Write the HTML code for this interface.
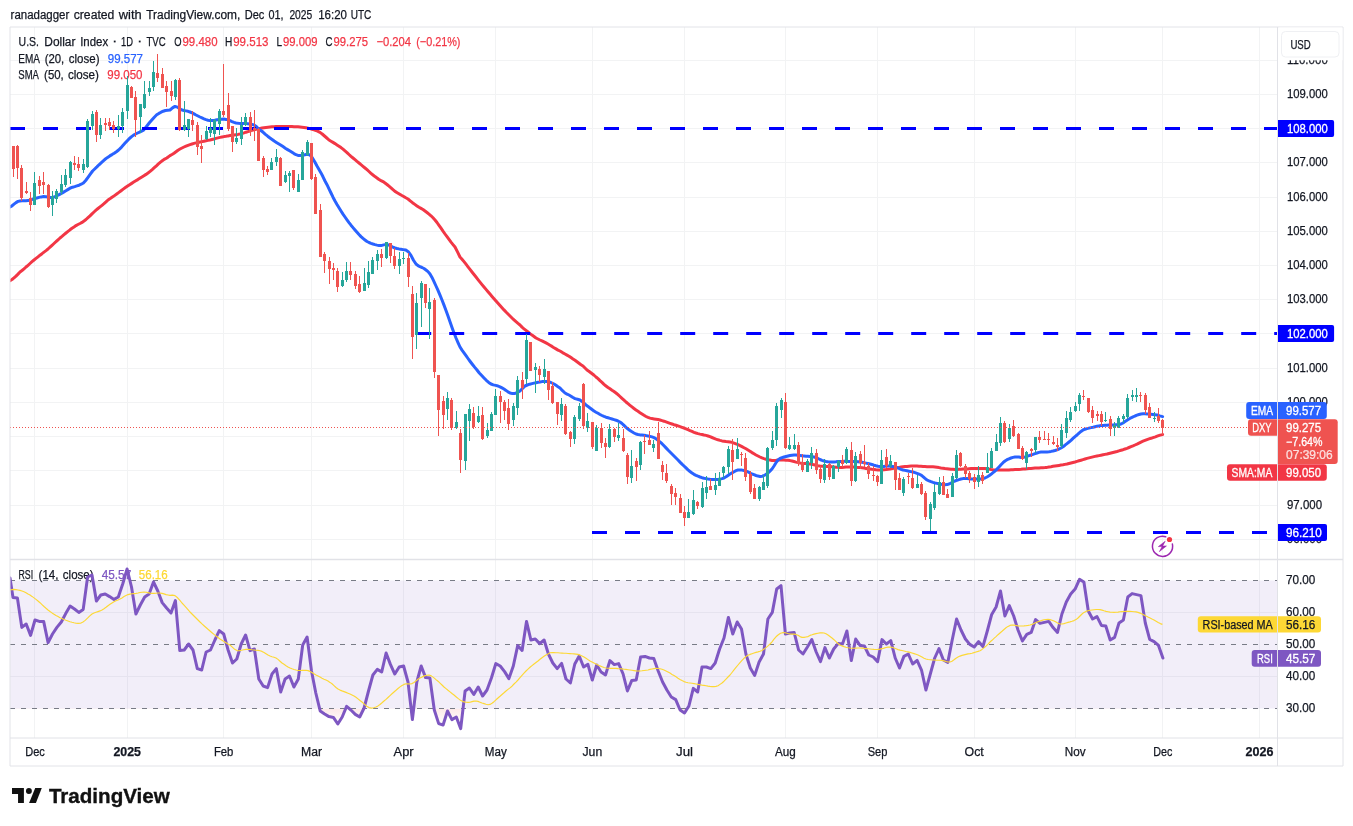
<!DOCTYPE html>
<html><head><meta charset="utf-8"><title>U.S. Dollar Index chart</title>
<style>html,body{margin:0;padding:0;background:#fff}body{width:1353px;height:826px;overflow:hidden;font-family:"Liberation Sans",sans-serif}svg{display:block}</style></head>
<body>
<svg width="1353" height="826" viewBox="0 0 1353 826" font-family="'Liberation Sans', sans-serif">
<rect width="1353" height="826" fill="#fff"/>
<defs><clipPath id="cm"><rect x="10" y="27" width="1267.5" height="532.5"/></clipPath><clipPath id="cr"><rect x="10" y="559.5" width="1267.5" height="178.5"/></clipPath><clipPath id="cos"><rect x="10" y="708.5" width="1267.5" height="29.5"/></clipPath><linearGradient id="osg" gradientUnits="userSpaceOnUse" x1="0" y1="708.5" x2="0" y2="724.5"><stop offset="0" stop-color="#ef5350" stop-opacity="0.13"/><stop offset="1" stop-color="#ef5350" stop-opacity="0"/></linearGradient><filter id="noop" x="0" y="0" width="1353" height="826" filterUnits="userSpaceOnUse" color-interpolation-filters="sRGB"><feOffset dx="0" dy="0"/></filter></defs>
<path d="M34.5 27V738M127.5 27V738M223.5 27V738M311.5 27V738M403.5 27V738M495.5 27V738M592.5 27V738M684.5 27V738M785.5 27V738M877.5 27V738M974.5 27V738M1075.5 27V738M1162.5 27V738M1259.5 27V738M10 539.5H1277.5M10 505.5H1277.5M10 470.5H1277.5M10 436.5H1277.5M10 402.5H1277.5M10 368.5H1277.5M10 333.5H1277.5M10 299.5H1277.5M10 265.5H1277.5M10 231.5H1277.5M10 197.5H1277.5M10 162.5H1277.5M10 128.5H1277.5M10 94.5H1277.5M10 60.5H1277.5M10 612.5H1277.5M10 676.5H1277.5" stroke="#f2f3f4" stroke-width="1" fill="none" shape-rendering="crispEdges"/>
<rect x="10" y="580.5" width="1267.5" height="128.0" fill="#7e57c2" fill-opacity="0.1"/>
<g filter="url(#noop)">
<text x="18.6" y="45.9" font-size="12.5" font-weight="normal" fill="#131722" stroke="#131722" stroke-width="0.25" textLength="20.4" lengthAdjust="spacingAndGlyphs" xml:space="preserve">U.S.</text>
<text x="44.3" y="45.9" font-size="12.5" font-weight="normal" fill="#131722" stroke="#131722" stroke-width="0.25" textLength="31.2" lengthAdjust="spacingAndGlyphs" xml:space="preserve">Dollar</text>
<text x="80.2" y="45.9" font-size="12.5" font-weight="normal" fill="#131722" stroke="#131722" stroke-width="0.25" textLength="28.0" lengthAdjust="spacingAndGlyphs" xml:space="preserve">Index</text>
<rect x="113.8" y="40.6" width="1.8" height="1.8" fill="#131722"/>
<text x="121.1" y="45.9" font-size="12.5" font-weight="normal" fill="#131722" stroke="#131722" stroke-width="0.25" textLength="12.0" lengthAdjust="spacingAndGlyphs" xml:space="preserve">1D</text>
<rect x="138.8" y="40.6" width="1.8" height="1.8" fill="#131722"/>
<text x="146.4" y="45.9" font-size="12.5" font-weight="normal" fill="#131722" stroke="#131722" stroke-width="0.25" textLength="19.2" lengthAdjust="spacingAndGlyphs" xml:space="preserve">TVC</text>
<text x="174.2" y="45.9" font-size="12.5" font-weight="normal" fill="#131722" stroke="#131722" stroke-width="0.25" textLength="7.3" lengthAdjust="spacingAndGlyphs" xml:space="preserve">O</text>
<text x="182.5" y="45.9" font-size="12.5" font-weight="normal" fill="#f23645" stroke="#f23645" stroke-width="0.25" textLength="35.0" lengthAdjust="spacingAndGlyphs" xml:space="preserve">99.480</text>
<text x="225.0" y="45.9" font-size="12.5" font-weight="normal" fill="#131722" stroke="#131722" stroke-width="0.25" textLength="7.3" lengthAdjust="spacingAndGlyphs" xml:space="preserve">H</text>
<text x="233.2" y="45.9" font-size="12.5" font-weight="normal" fill="#f23645" stroke="#f23645" stroke-width="0.25" textLength="35.3" lengthAdjust="spacingAndGlyphs" xml:space="preserve">99.513</text>
<text x="276.4" y="45.9" font-size="12.5" font-weight="normal" fill="#131722" stroke="#131722" stroke-width="0.25" textLength="5.6" lengthAdjust="spacingAndGlyphs" xml:space="preserve">L</text>
<text x="283.0" y="45.9" font-size="12.5" font-weight="normal" fill="#f23645" stroke="#f23645" stroke-width="0.25" textLength="34.5" lengthAdjust="spacingAndGlyphs" xml:space="preserve">99.009</text>
<text x="325.6" y="45.9" font-size="12.5" font-weight="normal" fill="#131722" stroke="#131722" stroke-width="0.25" textLength="7.0" lengthAdjust="spacingAndGlyphs" xml:space="preserve">C</text>
<text x="333.5" y="45.9" font-size="12.5" font-weight="normal" fill="#f23645" stroke="#f23645" stroke-width="0.25" textLength="34.5" lengthAdjust="spacingAndGlyphs" xml:space="preserve">99.275</text>
<text x="376.4" y="45.9" font-size="12.5" font-weight="normal" fill="#f23645" stroke="#f23645" stroke-width="0.25" textLength="34.6" lengthAdjust="spacingAndGlyphs" xml:space="preserve">−0.204</text>
<text x="416.2" y="45.9" font-size="12.5" font-weight="normal" fill="#f23645" stroke="#f23645" stroke-width="0.25" textLength="44.3" lengthAdjust="spacingAndGlyphs" xml:space="preserve">(−0.21%)</text>
<text x="18.3" y="62.9" font-size="12.5" font-weight="normal" fill="#131722" stroke="#131722" stroke-width="0.25" textLength="21.7" lengthAdjust="spacingAndGlyphs" xml:space="preserve">EMA</text>
<text x="44.7" y="62.9" font-size="12.5" font-weight="normal" fill="#131722" stroke="#131722" stroke-width="0.25" textLength="19.6" lengthAdjust="spacingAndGlyphs" xml:space="preserve">(20,</text>
<text x="68.8" y="62.9" font-size="12.5" font-weight="normal" fill="#131722" stroke="#131722" stroke-width="0.25" textLength="30.7" lengthAdjust="spacingAndGlyphs" xml:space="preserve">close)</text>
<text x="107.8" y="62.9" font-size="12.5" font-weight="normal" fill="#2962ff" stroke="#2962ff" stroke-width="0.25" textLength="35.2" lengthAdjust="spacingAndGlyphs" xml:space="preserve">99.577</text>
<text x="18.3" y="79.4" font-size="12.5" font-weight="normal" fill="#131722" stroke="#131722" stroke-width="0.25" textLength="20.7" lengthAdjust="spacingAndGlyphs" xml:space="preserve">SMA</text>
<text x="44.1" y="79.4" font-size="12.5" font-weight="normal" fill="#131722" stroke="#131722" stroke-width="0.25" textLength="19.7" lengthAdjust="spacingAndGlyphs" xml:space="preserve">(50,</text>
<text x="67.9" y="79.4" font-size="12.5" font-weight="normal" fill="#131722" stroke="#131722" stroke-width="0.25" textLength="31.1" lengthAdjust="spacingAndGlyphs" xml:space="preserve">close)</text>
<text x="107.3" y="79.4" font-size="12.5" font-weight="normal" fill="#f23645" stroke="#f23645" stroke-width="0.25" textLength="35.2" lengthAdjust="spacingAndGlyphs" xml:space="preserve">99.050</text>
<text x="18.5" y="579.0" font-size="12.5" font-weight="normal" fill="#131722" stroke="#131722" stroke-width="0.25" textLength="14.7" lengthAdjust="spacingAndGlyphs" xml:space="preserve">RSI</text>
<text x="38.6" y="579.0" font-size="12.5" font-weight="normal" fill="#131722" stroke="#131722" stroke-width="0.25" textLength="19.8" lengthAdjust="spacingAndGlyphs" xml:space="preserve">(14,</text>
<text x="62.8" y="579.0" font-size="12.5" font-weight="normal" fill="#131722" stroke="#131722" stroke-width="0.25" textLength="30.8" lengthAdjust="spacingAndGlyphs" xml:space="preserve">close)</text>
<text x="101.7" y="579.0" font-size="12.5" font-weight="normal" fill="#7e57c2" stroke="#7e57c2" stroke-width="0.25" textLength="29.5" lengthAdjust="spacingAndGlyphs" xml:space="preserve">45.57</text>
<text x="138.8" y="579.0" font-size="12.5" font-weight="normal" fill="#fdd835" stroke="#fdd835" stroke-width="0.25" textLength="28.9" lengthAdjust="spacingAndGlyphs" xml:space="preserve">56.16</text>
</g>
<g clip-path="url(#cm)">
<path d="M10.0 280.6L12.0 279.5L14.0 277.9L16.0 276.1L18.0 274.1L20.0 272.0L22.0 270.5L24.0 268.8L26.0 267.0L28.0 265.3L30.0 263.5L32.0 261.7L34.0 260.0L36.0 258.4L38.0 256.8L40.0 255.2L42.0 253.7L44.0 252.1L46.0 250.6L48.0 249.0L50.0 247.2L52.0 245.3L54.0 243.5L56.0 241.7L58.0 239.8L60.0 238.0L62.0 236.4L64.0 234.7L66.0 233.0L68.0 231.4L70.0 229.8L72.0 228.3L74.0 227.0L76.0 225.6L78.0 224.5L80.0 223.5L82.0 222.4L84.0 221.0L86.0 219.5L88.0 217.7L90.0 215.9L92.0 213.9L94.0 212.0L96.0 210.2L98.0 208.5L100.0 206.9L102.0 205.3L104.0 203.7L106.0 201.9L108.0 200.0L110.2 198.6L112.4 197.1L114.5 195.6L116.7 194.0L118.9 192.4L121.1 190.7L123.2 189.1L125.4 187.5L127.6 186.0L129.6 184.7L131.7 183.4L133.7 182.1L135.8 180.8L137.8 179.6L139.8 178.3L141.9 177.0L143.9 175.7L146.0 174.4L148.0 173.0L150.1 171.4L152.2 169.6L154.3 167.7L156.4 165.8L158.4 163.9L160.5 162.1L162.6 160.5L164.7 159.1L166.8 158.0L170.0 155.6L172.0 154.5L174.0 153.2L176.0 151.7L178.0 150.2L180.0 149.0L182.0 148.0L184.0 147.0L186.0 146.1L188.0 145.3L190.0 144.6L192.0 144.0L194.0 143.4L196.0 142.9L198.0 142.5L200.0 142.0L202.0 141.6L204.0 141.2L206.0 140.8L208.0 140.4L210.0 140.0L212.0 139.5L214.0 139.0L216.0 138.4L218.0 137.9L220.0 137.4L222.0 137.0L224.0 136.6L226.0 136.3L228.0 135.9L230.0 135.6L232.0 135.3L234.0 135.0L236.0 134.7L238.0 134.4L240.0 134.0L242.0 133.5L244.0 132.9L246.0 132.2L248.0 131.6L250.0 131.0L252.0 130.4L254.0 129.9L256.0 129.3L258.0 128.8L260.0 128.4L262.0 128.0L264.0 127.7L266.0 127.4L268.0 127.2L270.0 127.0L272.0 126.8L274.0 126.7L276.0 126.5L278.0 126.5L280.0 126.4L282.0 126.4L284.0 126.4L286.0 126.5L288.0 126.5L290.0 126.6L292.0 126.6L294.0 126.7L296.0 126.7L298.0 126.8L300.0 127.0L302.0 127.2L304.0 127.4L306.0 127.7L308.0 128.1L310.0 128.6L312.0 129.2L314.0 129.8L316.0 130.5L318.0 131.4L320.0 132.4L322.2 134.0L324.5 136.0L326.8 138.0L329.0 140.0L331.0 141.2L333.0 142.4L335.0 143.6L337.0 144.9L339.0 146.2L341.0 147.6L343.0 149.2L345.0 150.9L347.0 152.6L349.0 154.5L351.0 156.3L353.0 158.0L355.0 159.7L357.0 161.4L359.0 163.0L361.0 164.7L363.0 166.3L365.0 168.0L367.0 169.7L369.0 171.5L371.0 173.3L373.0 175.0L375.0 176.6L377.0 178.0L379.0 179.5L381.0 180.6L383.0 181.6L385.0 183.0L387.0 184.5L389.0 186.2L391.0 187.9L393.0 189.7L395.0 191.4L397.2 192.7L399.3 194.0L401.5 195.3L403.7 196.5L405.8 197.8L408.0 199.0L410.2 200.8L412.5 202.7L414.8 204.4L417.0 206.0L419.0 207.3L421.0 208.4L423.0 209.5L425.0 211.0L427.0 212.5L429.0 214.1L431.0 215.8L433.0 217.8L435.0 220.0L437.0 222.5L439.0 225.3L441.0 228.2L443.0 231.2L445.0 234.0L447.0 236.7L449.0 239.4L451.0 242.1L453.0 244.6L455.0 247.0L457.5 251.9L460.0 257.0L462.0 259.2L464.0 261.6L466.0 264.2L468.0 266.8L470.0 269.4L472.0 272.0L474.0 274.5L476.0 277.0L478.0 279.6L480.0 282.1L482.0 284.6L484.0 287.0L486.0 289.4L488.0 291.8L490.0 294.1L492.0 296.4L494.0 298.7L496.0 301.0L498.0 303.2L500.0 305.5L502.0 307.7L504.0 309.9L506.0 312.0L508.0 314.0L510.0 316.0L512.0 318.0L514.0 319.9L516.0 321.7L518.0 323.4L520.0 325.0L522.0 327.1L524.0 328.8L526.0 330.4L528.0 332.0L530.0 333.6L532.0 335.1L534.0 336.5L536.0 338.0L538.0 339.0L540.0 340.0L542.0 340.9L544.0 341.9L546.0 342.9L548.0 344.0L550.0 345.2L552.0 346.4L554.0 347.7L556.0 348.9L558.0 350.1L560.0 351.0L562.5 352.6L565.0 354.0L567.0 355.1L569.0 356.2L571.0 357.6L573.0 359.0L575.0 360.3L577.0 361.8L579.0 363.3L581.0 364.8L583.0 366.0L585.0 368.0L587.0 370.0L589.2 371.5L591.5 373.2L593.8 375.0L596.0 377.0L598.0 378.7L600.0 380.6L602.0 382.4L604.0 384.3L606.0 386.0L608.0 387.5L610.0 388.8L612.0 390.2L614.0 391.5L616.0 393.0L618.0 394.7L620.0 396.5L622.0 398.4L624.0 400.2L626.0 402.0L628.0 403.7L630.0 405.3L632.0 406.9L634.0 408.5L636.0 410.0L638.0 411.3L640.0 412.7L642.0 414.0L644.0 415.3L646.0 416.5L648.0 417.4L650.0 418.1L652.0 418.6L654.0 418.9L656.0 419.2L658.0 419.5L660.0 420.0L662.0 420.6L664.0 421.2L666.0 421.9L668.0 422.6L670.0 423.3L672.0 424.0L674.0 424.7L676.0 425.3L678.0 425.9L680.0 426.6L682.0 427.3L684.0 428.0L686.0 428.8L688.0 429.7L690.0 430.6L692.0 431.4L694.0 432.3L696.0 433.0L698.0 433.6L700.0 434.1L702.0 434.5L704.0 435.0L706.0 435.4L708.0 436.0L710.0 436.7L712.0 437.5L714.0 438.3L716.0 439.1L718.0 439.8L720.0 440.4L722.0 440.9L724.0 441.2L726.0 441.5L728.0 441.7L730.0 442.0L732.0 442.4L734.0 443.1L736.0 443.9L738.0 444.7L740.0 445.6L742.0 446.6L744.0 447.7L746.0 448.8L748.0 450.0L750.0 451.2L752.0 452.6L754.0 453.8L756.0 455.0L758.0 456.0L760.0 457.0L762.0 457.9L764.0 458.6L766.0 459.2L768.0 459.8L770.0 460.1L772.0 460.4L774.0 460.4L776.0 460.3L778.0 460.1L780.0 460.0L782.0 460.0L784.0 460.1L786.0 460.2L788.0 460.3L790.0 460.6L792.0 461.0L794.0 461.5L796.0 462.1L798.0 462.6L800.0 463.0L802.0 463.3L804.0 463.5L806.0 463.6L808.0 463.8L810.0 464.0L812.0 464.4L814.0 464.8L816.0 465.3L818.0 465.7L820.0 466.0L822.0 466.2L824.0 466.3L826.0 466.4L828.0 466.5L830.0 466.6L832.0 466.8L834.0 467.0L836.0 467.2L838.0 467.3L840.0 467.4L842.0 467.4L844.0 467.3L846.0 467.1L848.0 467.0L850.0 467.0L852.0 467.0L854.0 467.1L856.0 467.3L858.0 467.4L860.0 467.6L862.0 467.8L864.0 468.1L866.0 468.4L868.0 468.7L870.0 469.0L872.0 469.3L874.0 469.5L876.0 469.8L878.0 469.9L880.0 470.0L882.0 469.9L884.0 469.7L886.0 469.5L888.0 469.2L890.0 469.0L892.5 468.5L895.0 468.0L897.0 467.7L899.0 467.4L901.0 467.1L903.0 466.8L905.0 466.6L907.0 466.4L909.0 466.2L911.0 466.1L913.0 466.0L915.0 466.0L917.0 466.0L919.0 466.2L921.0 466.3L923.0 466.5L925.0 466.6L927.0 466.7L929.0 466.7L931.0 466.8L933.0 466.8L935.0 467.0L937.0 467.3L939.0 467.6L941.0 468.0L943.0 468.3L945.0 468.6L947.0 468.8L949.0 469.0L951.0 469.2L953.0 469.3L955.0 469.4L957.0 469.4L959.0 469.3L961.0 469.2L963.0 469.1L965.0 469.0L967.0 468.9L969.0 468.7L971.0 468.6L973.0 468.5L975.0 468.4L977.0 468.4L979.0 468.4L981.0 468.4L983.0 468.5L985.0 468.6L987.0 468.8L989.0 469.1L991.0 469.5L993.0 469.8L995.0 470.0L997.0 470.1L999.0 470.1L1001.0 470.1L1003.0 470.0L1005.0 470.0L1007.0 469.9L1009.0 469.9L1011.0 469.8L1013.0 469.7L1015.0 469.6L1017.0 469.5L1019.0 469.4L1021.0 469.3L1023.0 469.1L1025.0 469.0L1027.0 468.8L1029.0 468.6L1031.0 468.4L1033.0 468.2L1035.0 468.0L1037.0 467.9L1039.0 467.9L1041.0 467.8L1043.0 467.7L1045.0 467.6L1047.0 467.4L1049.0 467.0L1051.0 466.7L1053.0 466.3L1055.0 466.0L1057.0 465.7L1059.0 465.4L1061.0 465.1L1063.0 464.8L1065.0 464.4L1067.0 464.0L1069.0 463.5L1071.0 463.0L1073.0 462.5L1075.0 462.0L1077.0 461.4L1079.0 460.8L1081.0 460.2L1083.0 459.6L1085.0 459.0L1087.0 458.4L1089.0 457.9L1091.0 457.4L1093.0 456.9L1095.0 456.4L1097.0 456.0L1099.0 455.6L1101.0 455.2L1103.0 454.8L1105.0 454.4L1107.0 454.0L1109.0 453.5L1111.0 453.0L1113.0 452.5L1115.0 452.0L1117.0 451.5L1119.0 450.9L1121.0 450.3L1123.0 449.7L1125.0 449.0L1127.0 448.3L1129.0 447.5L1131.0 446.7L1133.0 445.9L1135.0 445.0L1137.0 444.1L1139.0 443.1L1141.0 442.1L1143.0 441.2L1145.0 440.4L1147.0 439.6L1149.0 438.9L1151.0 438.3L1153.0 437.6L1155.4 436.8L1157.8 435.9L1160.2 435.1L1162.6 434.6" stroke="#f23645" stroke-width="3" fill="none" stroke-linejoin="round" stroke-linecap="round"/>
<path d="M10.0 207.0L12.0 205.9L14.0 204.2L16.0 202.6L18.0 201.4L20.0 201.0L22.0 200.8L24.0 200.8L26.0 200.8L28.0 200.6L30.2 200.0L32.4 199.3L34.6 198.6L36.9 198.0L39.1 197.4L41.4 196.9L43.6 196.6L45.9 196.7L48.1 197.1L50.4 197.5L52.6 197.4L54.8 196.8L57.0 195.8L59.2 194.6L61.4 193.4L63.6 192.1L65.9 190.8L68.2 189.4L70.4 188.0L72.6 187.2L74.7 186.6L76.9 185.9L79.1 185.2L81.2 184.2L83.4 183.0L85.7 180.5L88.0 177.4L90.3 174.2L92.6 171.0L94.7 169.0L96.9 166.9L99.0 164.8L101.1 162.8L103.3 160.8L105.4 159.0L107.6 157.4L109.8 155.9L112.0 154.6L114.2 153.2L116.4 151.7L118.6 150.0L120.8 147.9L122.9 145.6L125.1 143.1L127.3 140.7L129.4 138.5L131.6 136.6L133.6 135.1L135.6 134.0L137.6 133.0L139.6 132.1L141.6 131.1L143.6 130.1L146.5 126.5L149.4 122.8L151.8 120.0L154.3 117.2L156.7 114.8L158.9 113.4L161.1 112.2L163.2 111.2L165.4 110.5L167.7 110.2L170.0 110.0L172.5 107.9L175.0 106.4L177.3 107.1L179.7 108.7L182.0 110.0L184.0 110.5L186.0 110.9L188.0 111.3L190.0 112.0L192.0 112.8L194.0 113.9L196.0 115.0L198.0 116.0L200.0 117.0L202.0 117.9L204.0 118.8L206.0 119.6L208.0 120.2L210.0 120.6L212.3 120.6L214.7 120.2L217.1 119.7L219.4 119.4L221.6 119.2L223.8 119.1L226.0 119.4L228.0 119.9L230.0 120.7L232.0 121.6L234.0 122.4L236.0 123.0L238.4 123.3L240.8 123.4L243.2 123.5L245.6 123.6L247.7 123.8L249.8 124.1L251.9 124.4L254.0 125.0L256.3 126.5L258.6 129.0L260.9 130.5L263.2 132.3L265.4 134.3L267.7 136.2L270.0 138.0L272.1 139.5L274.2 141.0L276.4 142.4L278.5 143.7L280.6 145.0L283.0 146.6L285.3 148.2L287.6 149.6L290.0 151.0L292.0 152.3L294.0 153.6L296.0 154.7L298.0 155.4L300.0 155.5L302.0 155.3L304.0 154.9L306.0 154.6L308.0 154.4L310.0 155.0L312.3 157.7L314.7 161.7L317.0 166.0L319.0 169.4L321.0 172.9L323.0 176.8L325.0 181.0L327.0 184.7L329.0 188.8L331.0 193.0L333.0 197.2L335.0 201.0L337.0 204.5L339.0 207.8L341.0 211.0L343.0 214.1L345.0 217.0L347.0 219.8L349.0 222.6L351.0 225.2L353.0 227.6L355.0 230.0L357.0 232.3L359.0 234.5L361.0 236.6L363.0 238.4L365.0 240.0L367.0 241.5L369.0 242.5L371.0 243.3L373.0 244.0L375.0 244.6L377.0 245.1L379.0 245.5L381.0 245.6L383.7 244.9L386.4 244.4L388.5 245.0L390.7 246.0L392.9 247.1L395.0 248.0L397.0 248.5L399.0 248.9L401.0 249.2L403.0 249.6L405.8 250.1L408.6 252.0L411.1 255.6L413.5 260.2L416.0 264.0L418.0 265.6L420.0 266.7L422.0 267.5L424.0 268.5L426.0 270.0L428.0 271.6L430.0 274.0L432.0 277.4L434.0 281.6L436.0 286.0L438.0 290.4L440.0 295.1L442.0 300.0L444.0 305.1L446.0 310.5L448.0 316.0L450.0 321.7L452.0 327.5L454.0 333.0L456.0 338.0L458.0 342.6L460.0 347.0L462.0 350.1L464.0 352.9L466.0 355.7L468.0 358.5L470.2 361.5L472.5 364.5L474.8 367.4L477.0 370.0L479.3 373.0L481.7 375.6L484.0 378.0L486.3 380.3L488.7 382.4L491.0 384.0L493.3 384.9L495.7 385.4L498.0 386.0L500.0 386.9L502.0 387.9L504.0 389.0L506.0 390.4L508.0 391.9L510.0 393.0L512.5 393.6L515.0 393.4L517.5 392.5L520.0 391.0L522.5 388.5L525.0 386.0L527.3 385.0L529.7 384.2L532.0 383.6L534.0 383.1L536.0 382.7L538.0 382.3L540.0 382.0L542.0 381.6L544.0 381.4L546.0 381.4L548.0 381.6L550.0 382.1L552.0 383.0L554.0 384.0L556.0 385.3L558.0 386.7L560.0 388.0L562.5 390.7L565.0 393.0L567.0 394.1L569.0 395.0L571.0 396.2L573.0 397.5L575.0 398.6L577.5 399.2L580.0 400.0L582.0 401.4L584.0 403.1L586.0 405.0L588.0 406.4L590.0 408.0L592.0 409.5L594.0 411.0L596.0 412.2L598.0 413.3L600.0 414.5L602.0 415.5L604.0 416.4L606.0 417.2L608.0 417.8L610.0 418.4L612.0 419.0L614.0 419.6L616.0 420.2L618.0 421.0L620.0 422.0L622.0 423.5L624.0 425.4L626.0 427.3L628.0 429.0L630.0 430.5L632.0 431.8L634.0 433.0L636.0 434.0L638.0 434.5L640.0 434.9L642.0 435.1L644.0 435.3L646.0 435.6L648.0 436.0L650.0 436.4L652.0 436.9L654.0 437.6L656.0 438.8L658.0 440.2L660.0 442.0L662.0 443.7L664.0 445.8L666.0 447.9L668.0 450.0L670.0 452.0L672.0 454.0L674.0 456.0L676.0 458.0L678.0 460.0L680.0 462.1L682.0 464.1L684.0 466.0L686.0 467.9L688.0 469.8L690.0 471.5L692.0 473.0L694.0 474.3L696.0 475.3L698.0 476.2L700.0 477.0L702.0 477.7L704.0 478.2L706.0 478.6L708.0 479.0L710.0 479.3L712.0 479.5L714.0 479.6L716.0 479.6L718.0 479.4L720.0 479.1L722.0 478.6L724.0 478.0L726.0 476.8L728.0 475.4L730.0 474.0L732.0 472.9L734.0 471.7L736.0 470.6L738.0 470.0L740.0 469.9L742.0 470.1L744.0 470.5L746.0 471.0L748.0 471.9L750.0 473.0L752.0 474.0L754.0 474.7L756.0 475.5L758.0 476.1L760.0 476.4L762.5 476.2L765.0 475.0L767.3 473.5L769.7 471.4L772.0 469.0L774.0 466.0L776.0 462.7L778.0 460.0L780.0 458.5L782.0 457.7L784.0 457.0L786.0 456.5L788.0 456.0L790.0 455.5L792.0 455.2L794.0 455.0L796.0 455.0L798.0 455.2L800.0 455.5L802.0 455.8L804.0 456.0L806.0 456.2L808.0 456.3L810.0 456.4L812.0 456.6L814.0 457.0L816.0 457.7L818.0 458.5L820.0 459.5L822.0 460.3L824.0 461.0L826.0 461.5L828.0 461.8L830.0 461.9L832.0 462.0L834.0 461.9L836.0 461.8L838.0 461.5L840.0 461.4L842.0 461.4L844.0 461.3L846.0 461.3L848.0 461.4L850.0 461.4L852.0 461.5L854.0 461.5L856.0 461.6L858.0 461.8L860.0 462.0L862.0 462.3L864.0 462.7L866.0 463.1L868.0 463.5L870.0 464.0L872.0 464.5L874.0 465.2L876.0 465.8L878.0 466.3L880.0 466.6L882.0 466.6L884.0 466.4L886.0 466.1L888.0 466.0L890.3 466.1L892.7 466.5L895.0 467.0L897.0 467.6L899.0 468.4L901.0 469.3L903.0 470.0L905.0 470.4L907.0 470.8L909.0 471.2L911.0 471.6L913.0 472.0L915.0 472.6L917.0 473.3L919.0 474.1L921.0 475.0L923.0 476.6L925.0 478.4L927.0 480.0L929.0 480.9L931.0 481.7L933.0 482.4L935.0 483.0L937.0 483.4L939.0 483.8L941.0 484.2L943.0 484.5L945.0 484.7L947.0 484.6L949.0 484.0L951.0 483.1L953.0 481.9L955.0 481.0L957.0 480.2L959.0 479.6L961.0 479.0L963.0 478.6L965.0 478.5L967.0 478.6L969.0 478.7L971.0 478.9L973.0 479.0L975.0 479.0L977.0 479.0L979.0 479.0L981.0 478.9L983.0 478.6L985.0 478.0L987.0 477.0L989.0 475.8L991.0 474.3L993.0 472.7L995.0 471.0L997.0 469.1L999.0 466.9L1001.0 464.7L1003.0 462.7L1005.0 461.0L1007.0 459.7L1009.0 458.8L1011.0 458.0L1013.0 457.4L1015.0 457.0L1017.0 456.9L1019.0 457.1L1021.0 457.4L1023.0 457.4L1025.0 457.0L1027.0 456.4L1029.0 455.7L1031.0 455.0L1033.0 454.4L1035.0 453.7L1037.0 453.0L1039.0 452.4L1041.0 452.0L1043.0 451.9L1045.0 452.0L1047.0 451.9L1049.0 451.7L1051.0 451.4L1053.0 451.0L1055.0 450.5L1057.0 449.8L1059.0 449.0L1061.0 448.0L1063.0 446.7L1065.0 445.2L1067.0 443.6L1069.0 442.0L1071.0 440.3L1073.0 438.4L1075.0 436.6L1077.0 435.0L1079.0 433.1L1081.0 431.4L1083.0 430.0L1085.0 429.2L1087.0 428.6L1089.0 428.1L1091.0 427.6L1093.0 427.2L1095.0 426.7L1097.0 426.3L1099.0 425.9L1101.0 425.6L1103.0 425.4L1105.0 425.3L1107.0 425.2L1109.0 425.1L1111.0 425.0L1113.0 424.9L1115.0 424.8L1117.0 424.7L1119.0 424.5L1121.0 424.0L1123.0 423.0L1125.0 421.6L1127.0 420.2L1129.0 419.0L1131.0 417.8L1133.0 416.9L1135.0 416.0L1137.0 415.2L1139.0 414.5L1141.0 414.0L1143.0 413.8L1145.0 413.8L1147.0 413.9L1149.0 414.0L1151.0 414.2L1153.0 414.4L1155.0 414.7L1157.0 415.0L1159.8 415.9L1162.6 416.6" stroke="#2962ff" stroke-width="3" fill="none" stroke-linejoin="round" stroke-linecap="round"/>
<path d="M10 128.5H1277.5" stroke="#0000ff" stroke-width="3" stroke-dasharray="15 18" fill="none"/>
<path d="M416.2 333.5H1277.5" stroke="#0000ff" stroke-width="3" stroke-dasharray="15 18" fill="none"/>
<path d="M592 532.5H1277.5" stroke="#0000ff" stroke-width="3" stroke-dasharray="15 18" fill="none"/>
<path d="M13.5 146V177M17.5 145V179M21.5 165V201M26.5 182V194M30.5 192V211M39.5 176V194M43.5 172V194M48.5 184V208M74.5 156V170M78.5 157V171M96.5 110V142M105.5 118V131M109.5 118V130M113.5 121V133M131.5 86V98M135.5 91V137M157.5 54V82M162.5 68V88M166.5 81V107M171.5 81V101M179.5 78V131M192.5 111V131M197.5 122V155M201.5 135V163M223.5 64V117M228.5 93V131M232.5 126V152M250.5 112V136M254.5 110V141M258.5 128V161M263.5 156V177M267.5 166V175M280.5 157V186M293.5 170V190M311.5 143V180M315.5 174V214M320.5 204V257M324.5 252V273M329.5 257V284M333.5 263V280M337.5 268V292M350.5 262V280M355.5 271V289M359.5 276V293M381.5 249V267M390.5 243V263M394.5 248V269M408.5 253V287M412.5 286V359M425.5 284V308M434.5 298V378M438.5 375V436M443.5 396V429M451.5 398V430M460.5 429V473M473.5 407V429M482.5 407V440M500.5 391V423M504.5 400V420M508.5 399V430M522.5 372V399M530.5 342V371M539.5 366V382M548.5 371V400M552.5 382V404M557.5 402V425M565.5 404V435M570.5 431V447M583.5 383V429M592.5 422V449M601.5 423V448M605.5 438V458M614.5 428V442M623.5 429V452M627.5 453V484M636.5 458V481M644.5 435V454M649.5 431V445M658.5 422V459M662.5 461V480M666.5 464V483M671.5 484V505M675.5 488V505M680.5 494V513M684.5 506V526M697.5 501V509M710.5 479V490M732.5 439V480M741.5 452V466M745.5 453V481M750.5 471V494M754.5 484V499M785.5 393V449M798.5 442V466M802.5 454V472M816.5 449V474M820.5 466V483M829.5 463V480M842.5 455V467M851.5 442V486M860.5 451V469M864.5 445V467M868.5 463V479M873.5 466V481M877.5 475V486M886.5 449V468M895.5 462V490M899.5 473V490M908.5 473V484M912.5 468V489M921.5 482V495M925.5 491V520M943.5 476V495M947.5 489V498M960.5 452V467M965.5 464V478M969.5 471V483M974.5 474V489M982.5 472V484M1004.5 421V443M1013.5 420V437M1018.5 433V449M1022.5 446V460M1031.5 448V457M1039.5 431V443M1044.5 431V440M1048.5 433V445M1053.5 436V445M1057.5 438V451M1083.5 390V400M1088.5 398V413M1092.5 406V423M1097.5 411V421M1101.5 411V426M1110.5 416V436M1140.5 392V402M1145.5 393V414M1149.5 403V418M1158.5 408V423M1162.5 419V435" stroke="#ef5350" stroke-width="1" fill="none" shape-rendering="crispEdges"/>
<path d="M34.5 172V205M52.5 191V216M56.5 189V203M61.5 175V195M65.5 169V187M70.5 161V184M83.5 159V173M87.5 119V168M92.5 111V130M100.5 118V139M118.5 115V137M122.5 108V133M127.5 76V119M140.5 104V133M144.5 81V109M149.5 81V96M153.5 61V91M175.5 79V100M184.5 101V131M188.5 119V137M206.5 126V140M210.5 118V137M214.5 119V145M219.5 109V135M236.5 128V144M241.5 117V145M245.5 113V126M271.5 158V170M276.5 149V166M285.5 171V183M289.5 171V192M298.5 174V192M302.5 150V180M307.5 140V156M342.5 272V287M346.5 262V282M364.5 268V291M368.5 261V288M372.5 257V274M377.5 250V270M386.5 242V259M399.5 252V274M403.5 252V264M416.5 293V349M421.5 281V327M429.5 288V339M447.5 392V420M456.5 411V429M465.5 414V470M469.5 404V441M478.5 406V423M487.5 423V438M491.5 412V431M495.5 389V415M513.5 403V426M517.5 376V415M526.5 334V384M535.5 363V393M544.5 359V384M561.5 398V421M574.5 415V444M579.5 403V421M587.5 413V432M596.5 425V451M609.5 424V448M618.5 423V441M631.5 450V483M640.5 441V470M653.5 440V452M688.5 499V518M693.5 490V515M702.5 482V508M706.5 476V499M715.5 473V495M719.5 472V486M723.5 466V478M728.5 446V474M737.5 438V459M759.5 486V501M763.5 475V490M767.5 447V488M772.5 431V450M776.5 403V446M781.5 398V418M789.5 437V450M794.5 434V450M807.5 459V472M811.5 447V469M824.5 459V483M833.5 465V479M838.5 460V472M846.5 447V464M855.5 452V482M881.5 450V484M890.5 455V468M903.5 477V496M917.5 475V488M930.5 502V531M934.5 484V510M939.5 477V495M952.5 473V497M956.5 450V479M978.5 466V487M987.5 453V473M991.5 448V468M996.5 434V451M1000.5 417V446M1009.5 424V442M1026.5 451V469M1035.5 437V453M1061.5 424V448M1066.5 411V438M1070.5 407V422M1075.5 402V412M1079.5 393V411M1105.5 412V422M1114.5 422V436M1118.5 416V428M1123.5 414V423M1127.5 394V419M1132.5 390V401M1136.5 388V402M1154.5 412V422" stroke="#26a69a" stroke-width="1" fill="none" shape-rendering="crispEdges"/>
<path d="M12.0 146h3V169h-3zM16.0 146h3V168h-3zM20.0 168h3V198h-3zM25.0 191h3V193h-3zM29.0 198h3V205h-3zM38.0 180h3V186h-3zM42.0 182h3V185h-3zM47.0 185h3V207h-3zM73.0 163h3V165h-3zM77.0 164h3V168h-3zM95.0 112h3V135h-3zM104.0 123h3V125h-3zM108.0 122h3V126h-3zM112.0 125h3V129h-3zM130.0 87h3V98h-3zM134.0 97h3V120h-3zM156.0 73h3V78h-3zM161.0 74h3V88h-3zM165.0 86h3V92h-3zM170.0 91h3V96h-3zM178.0 80h3V130h-3zM191.0 120h3V125h-3zM196.0 125h3V147h-3zM200.0 146h3V149h-3zM222.0 111h3V115h-3zM227.0 105h3V129h-3zM231.0 126h3V142h-3zM249.0 117h3V132h-3zM253.0 128h3V130h-3zM257.0 129h3V161h-3zM262.0 158h3V170h-3zM266.0 169h3V172h-3zM279.0 158h3V186h-3zM292.0 170h3V188h-3zM310.0 143h3V179h-3zM314.0 177h3V214h-3zM319.0 210h3V257h-3zM323.0 254h3V261h-3zM328.0 261h3V269h-3zM332.0 268h3V270h-3zM336.0 271h3V287h-3zM349.0 271h3V275h-3zM354.0 274h3V286h-3zM358.0 284h3V292h-3zM380.0 254h3V258h-3zM389.0 243h3V256h-3zM393.0 256h3V266h-3zM407.0 258h3V277h-3zM411.0 294h3V337h-3zM424.0 284h3V303h-3zM433.0 300h3V372h-3zM437.0 375h3V410h-3zM442.0 401h3V415h-3zM450.0 400h3V428h-3zM459.0 433h3V460h-3zM472.0 413h3V427h-3zM481.0 415h3V439h-3zM499.0 396h3V402h-3zM503.0 402h3V411h-3zM507.0 408h3V424h-3zM521.0 380h3V388h-3zM529.0 342h3V371h-3zM538.0 369h3V375h-3zM547.0 371h3V390h-3zM551.0 386h3V403h-3zM556.0 402h3V414h-3zM564.0 406h3V434h-3zM569.0 432h3V439h-3zM582.0 384h3V426h-3zM591.0 422h3V447h-3zM600.0 428h3V443h-3zM604.0 443h3V447h-3zM613.0 429h3V437h-3zM622.0 438h3V451h-3zM626.0 455h3V477h-3zM635.0 461h3V467h-3zM643.0 441h3V442h-3zM648.0 440h3V445h-3zM657.0 433h3V459h-3zM661.0 465h3V472h-3zM665.0 473h3V481h-3zM670.0 486h3V494h-3zM674.0 493h3V497h-3zM679.0 498h3V513h-3zM683.0 512h3V518h-3zM696.0 502h3V506h-3zM709.0 486h3V490h-3zM731.0 450h3V462h-3zM740.0 454h3V455h-3zM744.0 458h3V477h-3zM749.0 474h3V492h-3zM753.0 488h3V499h-3zM784.0 402h3V448h-3zM797.0 445h3V464h-3zM801.0 462h3V470h-3zM815.0 453h3V470h-3zM819.0 469h3V479h-3zM828.0 464h3V477h-3zM841.0 460h3V464h-3zM850.0 450h3V481h-3zM859.0 454h3V463h-3zM863.0 462h3V464h-3zM867.0 466h3V474h-3zM872.0 475h3V476h-3zM876.0 476h3V482h-3zM885.0 457h3V466h-3zM894.0 462h3V480h-3zM898.0 478h3V490h-3zM907.0 476h3V477h-3zM911.0 478h3V488h-3zM920.0 484h3V494h-3zM924.0 493h3V517h-3zM942.0 482h3V495h-3zM946.0 494h3V498h-3zM959.0 453h3V466h-3zM964.0 466h3V474h-3zM968.0 473h3V479h-3zM973.0 477h3V482h-3zM981.0 475h3V481h-3zM1003.0 423h3V442h-3zM1012.0 426h3V436h-3zM1017.0 434h3V449h-3zM1021.0 448h3V459h-3zM1030.0 449h3V451h-3zM1038.0 437h3V440h-3zM1043.0 439h3V440h-3zM1047.0 439h3V440h-3zM1052.0 442h3V444h-3zM1056.0 445h3V447h-3zM1082.0 396h3V397h-3zM1087.0 398h3V412h-3zM1091.0 410h3V418h-3zM1096.0 414h3V416h-3zM1100.0 414h3V422h-3zM1109.0 419h3V429h-3zM1139.0 395h3V396h-3zM1144.0 395h3V410h-3zM1148.0 407h3V418h-3zM1157.0 416h3V421h-3zM1161.0 420h3V428h-3z" fill="#ef5350" shape-rendering="crispEdges"/>
<path d="M33.0 183h3V205h-3zM51.0 196h3V205h-3zM55.0 191h3V199h-3zM60.0 184h3V192h-3zM64.0 175h3V185h-3zM69.0 162h3V178h-3zM82.0 164h3V170h-3zM86.0 121h3V167h-3zM91.0 114h3V126h-3zM99.0 125h3V135h-3zM117.0 126h3V129h-3zM121.0 112h3V126h-3zM126.0 85h3V111h-3zM139.0 104h3V117h-3zM143.0 94h3V108h-3zM148.0 88h3V92h-3zM152.0 72h3V87h-3zM174.0 80h3V97h-3zM183.0 125h3V130h-3zM187.0 119h3V129h-3zM205.0 131h3V139h-3zM209.0 128h3V133h-3zM213.0 120h3V134h-3zM218.0 111h3V124h-3zM235.0 138h3V142h-3zM240.0 125h3V139h-3zM244.0 117h3V125h-3zM270.0 162h3V170h-3zM275.0 157h3V162h-3zM284.0 175h3V182h-3zM288.0 173h3V176h-3zM297.0 180h3V192h-3zM301.0 152h3V180h-3zM306.0 142h3V155h-3zM341.0 280h3V286h-3zM345.0 271h3V280h-3zM363.0 283h3V291h-3zM367.0 272h3V285h-3zM371.0 260h3V274h-3zM376.0 254h3V261h-3zM385.0 242h3V258h-3zM398.0 259h3V266h-3zM402.0 258h3V259h-3zM415.0 303h3V335h-3zM420.0 283h3V298h-3zM428.0 302h3V309h-3zM446.0 398h3V409h-3zM455.0 422h3V428h-3zM464.0 414h3V461h-3zM468.0 409h3V421h-3zM477.0 416h3V422h-3zM486.0 430h3V436h-3zM490.0 414h3V431h-3zM494.0 396h3V415h-3zM512.0 406h3V420h-3zM516.0 380h3V408h-3zM525.0 340h3V379h-3zM534.0 367h3V370h-3zM543.0 369h3V377h-3zM560.0 404h3V415h-3zM573.0 417h3V439h-3zM578.0 406h3V419h-3zM586.0 421h3V428h-3zM595.0 428h3V451h-3zM608.0 429h3V447h-3zM617.0 435h3V438h-3zM630.0 466h3V478h-3zM639.0 442h3V465h-3zM652.0 444h3V448h-3zM687.0 512h3V518h-3zM692.0 500h3V514h-3zM701.0 488h3V507h-3zM705.0 487h3V493h-3zM714.0 485h3V490h-3zM718.0 478h3V486h-3zM722.0 467h3V473h-3zM727.0 449h3V467h-3zM736.0 449h3V459h-3zM758.0 487h3V499h-3zM762.0 482h3V490h-3zM766.0 448h3V486h-3zM771.0 440h3V448h-3zM775.0 406h3V440h-3zM780.0 400h3V410h-3zM788.0 445h3V449h-3zM793.0 445h3V449h-3zM806.0 461h3V472h-3zM810.0 453h3V463h-3zM823.0 464h3V480h-3zM832.0 466h3V479h-3zM837.0 461h3V467h-3zM845.0 449h3V463h-3zM854.0 456h3V481h-3zM880.0 460h3V484h-3zM889.0 461h3V466h-3zM902.0 479h3V493h-3zM916.0 484h3V488h-3zM929.0 504h3V519h-3zM933.0 492h3V508h-3zM938.0 482h3V494h-3zM951.0 476h3V497h-3zM955.0 455h3V478h-3zM977.0 475h3V482h-3zM986.0 467h3V473h-3zM990.0 451h3V468h-3zM995.0 442h3V451h-3zM999.0 423h3V443h-3zM1008.0 428h3V439h-3zM1025.0 452h3V463h-3zM1034.0 437h3V450h-3zM1060.0 430h3V446h-3zM1065.0 418h3V433h-3zM1069.0 412h3V420h-3zM1074.0 406h3V411h-3zM1078.0 395h3V404h-3zM1104.0 420h3V421h-3zM1113.0 425h3V428h-3zM1117.0 418h3V428h-3zM1122.0 416h3V419h-3zM1126.0 398h3V417h-3zM1131.0 395h3V397h-3zM1135.0 395h3V397h-3zM1153.0 418h3V419h-3z" fill="#26a69a" shape-rendering="crispEdges"/>
<path d="M10 427.5H1277.5" stroke="#ef5350" stroke-width="1" stroke-dasharray="1 2" fill="none" shape-rendering="crispEdges"/>
</g>
<g transform="translate(1162.5 546.3)" fill="none" stroke="#9c27b0" stroke-width="1.5" stroke-linecap="round"><path d="M3.2 -9.6A10.1 10.1 0 1 0 9.9 -2.2"/><path d="M2.4 -4.8L-4.1 0.3H-0.3L-3.1 5.3L3.9 -0.3H0.3z" fill="#9c27b0" stroke-width="0.6" stroke-linejoin="round"/></g>
<circle cx="1169.5" cy="539.5" r="2.6" fill="#f23645"/>
<g clip-path="url(#cr)">
<path d="M10.0 578.0L13.0 597.4L17.4 598.0L21.8 627.4L26.2 624.0L30.6 635.4L35.0 620.0L39.3 621.4L43.7 621.6L48.1 642.6L52.5 634.0L56.9 627.4L61.3 622.0L65.7 613.6L70.1 606.0L74.5 609.0L78.8 612.4L83.2 609.4L87.6 577.0L92.0 575.0L96.4 601.0L100.8 595.0L105.2 594.0L109.6 596.6L114.0 599.4L118.3 597.0L122.7 584.0L127.1 569.0L131.5 587.0L135.9 614.0L140.3 605.0L144.7 597.0L149.1 594.0L153.5 582.0L157.8 591.0L162.2 602.6L166.6 608.0L171.0 613.0L175.4 600.6L179.8 650.6L184.2 650.0L188.6 644.0L193.0 650.0L197.3 668.6L201.7 670.0L206.1 652.0L210.5 650.0L214.9 640.0L219.3 630.6L223.7 634.0L228.1 650.0L232.5 663.0L236.8 659.0L241.2 644.0L245.6 635.0L250.0 650.6L254.4 649.0L258.8 679.0L263.2 686.0L267.6 687.6L272.0 674.0L276.3 668.6L280.7 692.0L285.1 679.0L289.5 676.0L293.9 687.0L298.3 679.0L302.7 645.0L307.1 637.0L311.5 671.0L315.8 693.0L320.2 711.0L324.6 714.0L329.0 716.6L333.4 717.4L337.8 724.0L342.2 717.0L346.6 706.4L350.9 710.0L355.3 714.4L359.7 717.0L364.1 708.0L368.5 691.0L372.9 675.0L377.3 669.4L381.7 672.0L386.1 653.0L390.4 664.4L394.8 674.0L399.2 667.0L403.6 666.0L408.0 682.0L412.4 719.6L416.8 682.0L421.2 666.0L425.6 677.6L429.9 678.0L434.3 710.0L438.7 723.6L443.1 725.0L447.5 711.0L451.9 719.6L456.3 717.0L460.7 728.6L465.1 691.0L469.4 688.0L473.8 694.4L478.2 687.0L482.6 696.0L487.0 690.0L491.4 678.0L495.8 663.6L500.2 666.0L504.6 671.6L508.9 678.6L513.3 666.0L517.7 645.6L522.1 650.4L526.5 621.4L530.9 640.0L535.3 639.0L539.7 643.6L544.1 640.0L548.4 654.0L552.8 663.0L557.2 668.6L561.6 663.4L566.0 679.0L570.4 683.0L574.8 664.0L579.2 656.0L583.6 667.0L587.9 664.4L592.3 680.0L596.7 665.0L601.1 672.0L605.5 675.0L609.9 660.6L614.3 664.6L618.7 663.6L623.1 674.0L627.4 691.0L631.8 680.4L636.2 680.0L640.6 657.0L645.0 656.4L649.4 658.0L653.8 658.6L658.2 671.0L662.6 682.0L666.9 690.0L671.3 697.0L675.7 699.6L680.1 710.0L684.5 713.0L688.9 706.0L693.3 688.4L697.7 692.0L702.0 667.0L706.4 667.0L710.8 668.6L715.2 663.0L719.6 649.0L724.0 638.0L728.4 617.4L732.8 634.0L737.2 622.0L741.5 629.0L745.9 654.0L750.3 668.0L754.7 675.4L759.1 662.0L763.5 654.0L767.9 619.0L772.3 612.4L776.7 589.0L781.0 585.6L785.4 634.0L789.8 633.0L794.2 632.6L798.6 650.0L803.0 654.0L807.4 647.0L811.8 639.6L816.2 652.0L820.5 661.6L824.9 647.6L829.3 658.0L833.7 649.0L838.1 643.6L842.5 644.0L846.9 631.0L851.3 660.6L855.7 639.0L860.0 645.4L864.4 646.0L868.8 655.0L873.2 657.0L877.6 661.6L882.0 639.6L886.4 644.0L890.8 640.6L895.2 658.0L899.5 668.0L903.9 656.4L908.3 654.0L912.7 664.0L917.1 660.4L921.5 670.0L925.9 690.0L930.3 674.0L934.7 658.0L939.0 648.6L943.4 660.0L947.8 662.4L952.2 640.0L956.6 619.0L961.0 630.0L965.4 639.0L969.8 644.4L974.2 647.0L978.5 641.6L982.9 646.6L987.3 631.0L991.7 614.4L996.1 607.0L1000.5 591.0L1004.9 616.0L1009.3 605.6L1013.7 616.0L1018.0 630.0L1022.4 641.0L1026.8 634.4L1031.2 632.4L1035.6 619.6L1040.0 623.4L1044.4 622.4L1048.8 621.4L1053.1 627.6L1057.5 632.4L1061.9 614.0L1066.3 602.0L1070.7 594.0L1075.1 589.0L1079.5 579.4L1083.9 582.0L1088.3 611.0L1092.6 619.0L1097.0 616.6L1101.4 625.4L1105.8 626.0L1110.2 640.0L1114.6 637.4L1119.0 623.0L1123.4 620.0L1127.8 597.0L1132.1 593.6L1136.5 594.6L1140.9 595.6L1145.3 623.0L1149.7 639.4L1154.1 641.6L1158.5 645.4L1162.9 658.0L1162.9 708.5L10 708.5z" fill="url(#osg)" clip-path="url(#cos)"/>
<path d="M10 580.5H1277.5" stroke="#787b86" stroke-width="1" stroke-dasharray="5 6" fill="none" shape-rendering="crispEdges"/>
<path d="M10 644.5H1277.5" stroke="#787b86" stroke-width="1" stroke-dasharray="5 6" fill="none" shape-rendering="crispEdges"/>
<path d="M10 708.5H1277.5" stroke="#787b86" stroke-width="1" stroke-dasharray="5 6" fill="none" shape-rendering="crispEdges"/>
<path d="M10.0 578.0L13.0 597.4L17.4 598.0L21.8 627.4L26.2 624.0L30.6 635.4L35.0 620.0L39.3 621.4L43.7 621.6L48.1 642.6L52.5 634.0L56.9 627.4L61.3 622.0L65.7 613.6L70.1 606.0L74.5 609.0L78.8 612.4L83.2 609.4L87.6 577.0L92.0 575.0L96.4 601.0L100.8 595.0L105.2 594.0L109.6 596.6L114.0 599.4L118.3 597.0L122.7 584.0L127.1 569.0L131.5 587.0L135.9 614.0L140.3 605.0L144.7 597.0L149.1 594.0L153.5 582.0L157.8 591.0L162.2 602.6L166.6 608.0L171.0 613.0L175.4 600.6L179.8 650.6L184.2 650.0L188.6 644.0L193.0 650.0L197.3 668.6L201.7 670.0L206.1 652.0L210.5 650.0L214.9 640.0L219.3 630.6L223.7 634.0L228.1 650.0L232.5 663.0L236.8 659.0L241.2 644.0L245.6 635.0L250.0 650.6L254.4 649.0L258.8 679.0L263.2 686.0L267.6 687.6L272.0 674.0L276.3 668.6L280.7 692.0L285.1 679.0L289.5 676.0L293.9 687.0L298.3 679.0L302.7 645.0L307.1 637.0L311.5 671.0L315.8 693.0L320.2 711.0L324.6 714.0L329.0 716.6L333.4 717.4L337.8 724.0L342.2 717.0L346.6 706.4L350.9 710.0L355.3 714.4L359.7 717.0L364.1 708.0L368.5 691.0L372.9 675.0L377.3 669.4L381.7 672.0L386.1 653.0L390.4 664.4L394.8 674.0L399.2 667.0L403.6 666.0L408.0 682.0L412.4 719.6L416.8 682.0L421.2 666.0L425.6 677.6L429.9 678.0L434.3 710.0L438.7 723.6L443.1 725.0L447.5 711.0L451.9 719.6L456.3 717.0L460.7 728.6L465.1 691.0L469.4 688.0L473.8 694.4L478.2 687.0L482.6 696.0L487.0 690.0L491.4 678.0L495.8 663.6L500.2 666.0L504.6 671.6L508.9 678.6L513.3 666.0L517.7 645.6L522.1 650.4L526.5 621.4L530.9 640.0L535.3 639.0L539.7 643.6L544.1 640.0L548.4 654.0L552.8 663.0L557.2 668.6L561.6 663.4L566.0 679.0L570.4 683.0L574.8 664.0L579.2 656.0L583.6 667.0L587.9 664.4L592.3 680.0L596.7 665.0L601.1 672.0L605.5 675.0L609.9 660.6L614.3 664.6L618.7 663.6L623.1 674.0L627.4 691.0L631.8 680.4L636.2 680.0L640.6 657.0L645.0 656.4L649.4 658.0L653.8 658.6L658.2 671.0L662.6 682.0L666.9 690.0L671.3 697.0L675.7 699.6L680.1 710.0L684.5 713.0L688.9 706.0L693.3 688.4L697.7 692.0L702.0 667.0L706.4 667.0L710.8 668.6L715.2 663.0L719.6 649.0L724.0 638.0L728.4 617.4L732.8 634.0L737.2 622.0L741.5 629.0L745.9 654.0L750.3 668.0L754.7 675.4L759.1 662.0L763.5 654.0L767.9 619.0L772.3 612.4L776.7 589.0L781.0 585.6L785.4 634.0L789.8 633.0L794.2 632.6L798.6 650.0L803.0 654.0L807.4 647.0L811.8 639.6L816.2 652.0L820.5 661.6L824.9 647.6L829.3 658.0L833.7 649.0L838.1 643.6L842.5 644.0L846.9 631.0L851.3 660.6L855.7 639.0L860.0 645.4L864.4 646.0L868.8 655.0L873.2 657.0L877.6 661.6L882.0 639.6L886.4 644.0L890.8 640.6L895.2 658.0L899.5 668.0L903.9 656.4L908.3 654.0L912.7 664.0L917.1 660.4L921.5 670.0L925.9 690.0L930.3 674.0L934.7 658.0L939.0 648.6L943.4 660.0L947.8 662.4L952.2 640.0L956.6 619.0L961.0 630.0L965.4 639.0L969.8 644.4L974.2 647.0L978.5 641.6L982.9 646.6L987.3 631.0L991.7 614.4L996.1 607.0L1000.5 591.0L1004.9 616.0L1009.3 605.6L1013.7 616.0L1018.0 630.0L1022.4 641.0L1026.8 634.4L1031.2 632.4L1035.6 619.6L1040.0 623.4L1044.4 622.4L1048.8 621.4L1053.1 627.6L1057.5 632.4L1061.9 614.0L1066.3 602.0L1070.7 594.0L1075.1 589.0L1079.5 579.4L1083.9 582.0L1088.3 611.0L1092.6 619.0L1097.0 616.6L1101.4 625.4L1105.8 626.0L1110.2 640.0L1114.6 637.4L1119.0 623.0L1123.4 620.0L1127.8 597.0L1132.1 593.6L1136.5 594.6L1140.9 595.6L1145.3 623.0L1149.7 639.4L1154.1 641.6L1158.5 645.4L1162.9 658.0" stroke="#7e57c2" stroke-width="3" fill="none" stroke-linejoin="round" stroke-linecap="round"/>
<path d="M10.0 590.0L12.0 589.6L14.0 589.4L16.0 589.6L18.0 590.0L20.0 590.4L22.0 591.0L24.0 591.7L26.0 592.7L28.0 594.0L30.0 595.1L32.0 596.4L34.0 597.9L36.0 599.4L38.0 601.0L40.0 602.7L42.0 604.6L44.0 606.5L46.0 608.3L48.0 610.0L50.0 611.5L52.0 612.9L54.0 614.2L56.0 615.5L58.0 616.6L60.0 617.7L62.0 618.6L64.0 619.5L66.0 620.3L68.0 621.0L70.0 621.7L72.0 622.3L74.0 622.8L76.0 623.2L78.0 623.4L80.5 623.3L83.0 622.0L85.2 620.4L87.5 618.2L89.8 615.9L92.0 614.0L94.0 613.0L96.0 612.3L98.0 611.6L100.0 610.9L102.0 610.0L104.0 608.7L106.0 607.3L108.0 605.7L110.0 604.3L112.0 603.0L114.0 601.8L116.0 600.8L118.0 600.0L120.0 599.0L122.0 597.9L124.0 596.6L126.0 595.5L128.0 594.6L130.0 594.1L132.0 593.8L134.0 593.6L136.0 593.4L138.0 593.0L140.0 592.5L142.0 592.2L144.0 592.0L146.0 592.2L148.0 592.6L150.0 593.1L152.0 593.4L154.0 593.4L156.0 593.2L158.0 593.0L160.0 593.0L162.0 593.4L164.0 593.9L166.0 594.6L168.0 595.0L170.0 595.4L172.5 595.1L175.0 595.6L177.3 597.5L179.7 600.1L182.0 603.0L184.0 605.1L186.0 607.3L188.0 609.6L190.0 612.0L192.0 614.0L194.0 616.0L196.0 618.0L198.0 620.0L200.0 622.0L202.0 623.9L204.0 625.7L206.0 627.5L208.0 629.3L210.0 631.0L212.0 632.7L214.0 634.4L216.0 636.0L218.0 637.5L220.0 639.0L222.0 640.3L224.0 641.6L226.0 642.7L228.0 643.9L230.0 645.0L232.3 647.1L234.7 649.3L237.0 650.6L239.2 650.7L241.5 650.3L243.8 649.7L246.0 649.4L248.0 649.4L250.0 649.5L252.0 649.8L254.0 650.0L256.0 650.2L258.0 650.4L260.0 650.8L262.0 651.4L264.0 652.4L266.0 653.7L268.0 655.0L270.0 656.0L272.0 656.7L274.0 657.2L276.0 658.0L278.0 659.4L280.0 661.2L282.0 663.0L284.0 664.3L286.0 665.7L288.0 666.9L290.0 668.0L292.0 668.8L294.0 669.5L296.0 670.0L298.0 670.4L300.0 670.5L302.0 670.4L304.0 670.3L306.0 670.3L308.0 670.6L310.0 671.4L312.0 672.5L314.0 673.8L316.0 675.0L318.0 676.0L320.0 677.1L322.0 678.2L324.0 679.2L326.0 680.0L328.0 681.1L330.0 682.4L332.0 683.8L334.0 685.6L336.0 687.5L338.0 689.0L340.0 690.1L342.0 690.9L344.0 691.6L346.0 692.4L348.0 693.2L350.0 694.0L352.0 694.9L354.0 696.0L356.0 697.3L358.0 698.9L360.0 700.5L362.0 702.0L364.3 704.1L366.7 706.2L369.0 707.6L371.3 708.1L373.7 707.8L376.0 707.0L378.0 705.9L380.0 704.5L382.0 702.8L384.0 701.0L386.0 699.4L388.0 697.5L390.0 695.6L392.0 693.8L394.0 692.0L396.0 690.3L398.0 688.5L400.0 686.9L402.0 685.5L404.0 684.4L406.0 683.8L408.0 683.9L410.0 684.0L412.0 683.6L414.0 682.5L416.0 680.9L418.0 679.3L420.0 678.0L422.2 676.9L424.5 675.9L426.8 675.2L429.0 675.0L431.3 675.9L433.7 677.6L436.0 679.6L438.0 681.2L440.0 683.1L442.0 685.0L444.0 687.0L446.0 688.6L448.0 690.3L450.0 691.9L452.0 693.5L454.0 695.0L456.0 696.7L458.0 698.4L460.0 699.9L462.0 701.0L464.0 701.9L466.0 702.3L468.0 702.4L470.0 702.2L472.0 701.6L474.0 701.1L476.0 701.0L478.0 701.4L480.0 702.2L482.0 703.0L484.0 703.6L486.0 704.3L488.0 704.7L490.0 704.4L492.0 703.3L494.0 701.7L496.0 699.8L498.0 698.0L500.0 696.3L502.0 694.5L504.0 692.8L506.0 691.0L508.0 689.4L510.0 687.9L512.0 686.2L514.0 684.0L516.0 682.1L518.0 680.0L520.0 677.7L522.0 675.3L524.0 673.1L526.0 671.0L528.0 669.1L530.0 667.3L532.0 665.6L534.0 664.0L536.0 662.5L538.0 661.0L540.0 659.3L542.0 657.7L544.0 656.3L546.0 655.0L548.0 654.0L550.0 652.8L552.0 652.6L554.0 652.6L556.0 652.7L558.0 652.8L560.0 653.0L562.0 653.1L564.0 653.2L566.0 653.3L568.0 653.5L570.0 653.6L572.0 653.7L574.0 653.9L576.0 654.1L578.0 654.4L580.0 655.1L582.0 656.0L584.0 657.0L586.0 658.2L588.0 659.6L590.0 661.0L592.0 662.0L594.0 663.1L596.0 664.1L598.0 665.0L600.0 665.9L602.0 666.7L604.0 667.5L606.0 668.0L608.0 668.2L610.0 668.3L612.0 668.3L614.0 668.3L616.0 668.4L618.0 668.6L620.0 668.7L622.0 668.9L624.0 669.2L626.0 669.4L628.0 669.7L630.0 670.0L632.0 670.3L634.0 670.6L636.0 670.9L638.0 671.0L640.0 671.0L642.0 670.8L644.0 670.5L646.0 670.2L648.0 670.0L650.0 669.4L652.0 669.0L654.0 668.6L656.0 668.4L658.0 668.5L660.0 668.8L662.0 669.3L664.0 670.0L666.0 670.9L668.0 671.9L670.0 673.1L672.0 674.4L674.0 675.6L676.0 676.8L678.0 678.2L680.0 679.5L682.0 680.6L684.0 681.6L686.0 682.3L688.0 682.7L690.0 683.0L692.0 683.3L694.0 683.6L696.0 684.0L698.0 684.4L700.0 684.7L702.0 685.1L704.0 685.4L706.0 685.7L708.0 686.1L710.0 686.4L712.0 686.6L714.0 686.6L716.0 686.4L718.0 685.8L720.0 684.4L722.0 683.0L724.0 681.2L726.0 679.1L728.0 677.0L730.0 675.0L732.0 672.5L734.0 669.9L736.0 667.4L738.0 665.0L740.0 662.7L742.0 660.4L744.0 658.3L746.0 656.6L748.0 655.3L750.0 654.4L752.0 653.7L754.0 653.0L756.0 652.4L758.0 651.9L760.0 651.3L762.0 650.4L764.0 649.1L766.0 647.6L768.0 645.9L770.0 644.0L772.0 641.8L774.0 639.2L776.0 636.8L778.0 635.0L780.5 633.2L783.0 632.6L785.3 632.8L787.7 633.5L790.0 634.0L792.0 634.1L794.0 634.1L796.0 634.4L798.0 635.3L800.0 636.6L802.0 637.4L804.0 637.4L806.0 637.0L808.0 636.6L810.0 635.4L812.0 634.8L814.0 634.1L816.0 633.6L818.0 633.2L820.0 632.9L822.0 632.7L824.0 633.0L826.0 633.8L828.0 635.0L830.0 636.5L832.0 638.0L834.0 639.7L836.0 641.6L838.0 643.5L840.0 645.0L842.0 645.9L844.0 646.6L846.0 647.2L848.0 647.7L850.0 648.0L852.0 648.2L854.0 648.2L856.0 648.1L858.0 648.0L860.0 648.0L862.0 648.1L864.0 648.4L866.0 648.6L868.0 648.8L870.0 649.0L872.0 649.2L874.0 649.4L876.0 649.5L878.0 649.4L880.0 649.1L882.0 648.6L884.0 648.1L886.0 647.5L888.0 647.1L890.0 647.0L892.0 647.3L894.0 648.0L896.0 648.8L898.0 649.6L900.0 650.1L902.0 650.5L904.0 651.0L906.0 651.5L908.0 651.9L910.0 652.4L912.0 653.0L914.0 653.6L916.0 654.3L918.0 655.0L920.0 656.0L922.0 657.1L924.0 658.2L926.0 659.0L928.0 659.5L930.0 659.7L932.0 659.9L934.0 660.0L936.0 660.1L938.0 660.2L940.0 660.2L942.0 660.4L944.0 660.9L946.0 661.5L948.0 662.0L950.0 662.0L952.0 661.2L954.0 659.8L956.0 658.2L958.0 657.0L960.0 656.1L962.0 655.4L964.0 654.9L966.0 654.4L968.0 653.9L970.0 653.6L972.0 653.2L974.0 652.6L976.0 652.0L978.0 651.4L980.0 650.7L982.0 649.4L984.0 647.9L986.0 646.1L988.0 644.1L990.0 642.0L992.0 640.3L994.0 638.4L996.0 636.6L998.0 634.7L1000.0 633.0L1002.0 631.3L1004.0 629.5L1006.0 627.8L1008.0 626.4L1010.0 625.4L1012.0 625.0L1014.0 625.1L1016.0 625.5L1018.0 625.9L1020.0 626.0L1022.0 626.0L1024.0 625.9L1026.0 625.7L1028.0 625.4L1030.0 625.0L1032.0 624.4L1034.0 623.5L1036.0 622.6L1038.0 621.7L1040.0 621.0L1042.0 620.4L1044.0 619.8L1046.0 619.5L1048.0 619.4L1050.0 619.6L1052.0 620.2L1054.0 621.0L1056.0 622.1L1058.0 623.3L1060.0 624.0L1062.0 624.0L1064.0 623.6L1066.0 623.0L1068.0 622.4L1070.0 621.9L1072.0 621.3L1074.0 620.6L1076.0 619.6L1078.0 618.0L1080.0 616.0L1082.0 614.0L1084.0 612.4L1086.0 611.4L1088.0 610.8L1090.0 610.3L1092.0 610.0L1094.0 609.7L1096.0 609.5L1098.0 609.5L1100.0 609.6L1102.0 610.1L1104.0 610.8L1106.0 611.4L1108.0 611.7L1110.0 612.1L1112.0 612.3L1114.0 612.4L1116.0 612.3L1118.0 612.1L1120.0 611.8L1122.0 611.6L1124.0 611.5L1126.0 611.4L1128.0 611.4L1130.0 611.4L1132.0 611.5L1134.0 611.7L1136.0 611.9L1138.0 612.4L1140.0 613.1L1142.0 614.0L1144.0 615.0L1146.0 616.0L1148.0 617.0L1150.0 617.9L1152.0 619.0L1154.0 620.0L1156.1 621.2L1158.2 622.5L1160.3 623.6L1162.4 624.4" stroke="#fdd835" stroke-width="1.15" fill="none" stroke-linejoin="round"/>
</g>
<path d="M10 27H1343V766H10z" stroke="#e2e3e8" stroke-width="1" fill="none"/>
<path d="M1277.5 27V766" stroke="#e1e2e7" stroke-width="1" fill="none" shape-rendering="crispEdges"/>
<path d="M10 559.5H1343" stroke="#e1e2e7" stroke-width="1.3" fill="none"/>
<path d="M10 738H1343" stroke="#e1e2e7" stroke-width="1" fill="none"/>
<g filter="url(#noop)">
<text x="10.6" y="18.6" font-size="12.5" font-weight="normal" fill="#131722" stroke="#131722" stroke-width="0.25" textLength="58.7" lengthAdjust="spacingAndGlyphs" xml:space="preserve">ranadagger</text>
<text x="73.7" y="18.6" font-size="12.5" font-weight="normal" fill="#131722" stroke="#131722" stroke-width="0.25" textLength="40.7" lengthAdjust="spacingAndGlyphs" xml:space="preserve">created</text>
<text x="118.8" y="18.6" font-size="12.5" font-weight="normal" fill="#131722" stroke="#131722" stroke-width="0.25" textLength="22.9" lengthAdjust="spacingAndGlyphs" xml:space="preserve">with</text>
<text x="146.2" y="18.6" font-size="12.5" font-weight="normal" fill="#131722" stroke="#131722" stroke-width="0.25" textLength="94.1" lengthAdjust="spacingAndGlyphs" xml:space="preserve">TradingView.com,</text>
<text x="244.7" y="18.6" font-size="12.5" font-weight="normal" fill="#131722" stroke="#131722" stroke-width="0.25" textLength="19.6" lengthAdjust="spacingAndGlyphs" xml:space="preserve">Dec</text>
<text x="268.4" y="18.6" font-size="12.5" font-weight="normal" fill="#131722" stroke="#131722" stroke-width="0.25" textLength="15.1" lengthAdjust="spacingAndGlyphs" xml:space="preserve">01,</text>
<text x="289.4" y="18.6" font-size="12.5" font-weight="normal" fill="#131722" stroke="#131722" stroke-width="0.25" textLength="22.9" lengthAdjust="spacingAndGlyphs" xml:space="preserve">2025</text>
<text x="318.2" y="18.6" font-size="12.5" font-weight="normal" fill="#131722" stroke="#131722" stroke-width="0.25" textLength="28.8" lengthAdjust="spacingAndGlyphs" xml:space="preserve">16:20</text>
<text x="350.7" y="18.6" font-size="12.5" font-weight="normal" fill="#131722" stroke="#131722" stroke-width="0.25" textLength="20.7" lengthAdjust="spacingAndGlyphs" xml:space="preserve">UTC</text>
<text x="1287.0" y="543.0" font-size="12" font-weight="normal" fill="#131722" stroke="#131722" stroke-width="0.25" textLength="35.0" lengthAdjust="spacingAndGlyphs" xml:space="preserve">96.000</text>
<text x="1287.0" y="509.0" font-size="12" font-weight="normal" fill="#131722" stroke="#131722" stroke-width="0.25" textLength="35.0" lengthAdjust="spacingAndGlyphs" xml:space="preserve">97.000</text>
<text x="1287.0" y="406.0" font-size="12" font-weight="normal" fill="#131722" stroke="#131722" stroke-width="0.25" textLength="40.8" lengthAdjust="spacingAndGlyphs" xml:space="preserve">100.000</text>
<text x="1287.0" y="372.0" font-size="12" font-weight="normal" fill="#131722" stroke="#131722" stroke-width="0.25" textLength="40.8" lengthAdjust="spacingAndGlyphs" xml:space="preserve">101.000</text>
<text x="1287.0" y="303.0" font-size="12" font-weight="normal" fill="#131722" stroke="#131722" stroke-width="0.25" textLength="40.8" lengthAdjust="spacingAndGlyphs" xml:space="preserve">103.000</text>
<text x="1287.0" y="269.0" font-size="12" font-weight="normal" fill="#131722" stroke="#131722" stroke-width="0.25" textLength="40.8" lengthAdjust="spacingAndGlyphs" xml:space="preserve">104.000</text>
<text x="1287.0" y="235.0" font-size="12" font-weight="normal" fill="#131722" stroke="#131722" stroke-width="0.25" textLength="40.8" lengthAdjust="spacingAndGlyphs" xml:space="preserve">105.000</text>
<text x="1287.0" y="201.0" font-size="12" font-weight="normal" fill="#131722" stroke="#131722" stroke-width="0.25" textLength="40.8" lengthAdjust="spacingAndGlyphs" xml:space="preserve">106.000</text>
<text x="1287.0" y="166.0" font-size="12" font-weight="normal" fill="#131722" stroke="#131722" stroke-width="0.25" textLength="40.8" lengthAdjust="spacingAndGlyphs" xml:space="preserve">107.000</text>
<text x="1287.0" y="98.0" font-size="12" font-weight="normal" fill="#131722" stroke="#131722" stroke-width="0.25" textLength="40.8" lengthAdjust="spacingAndGlyphs" xml:space="preserve">109.000</text>
<text x="1287.0" y="64.0" font-size="12" font-weight="normal" fill="#131722" stroke="#131722" stroke-width="0.25" textLength="40.8" lengthAdjust="spacingAndGlyphs" xml:space="preserve">110.000</text>
<text x="1286.0" y="584.1" font-size="12" font-weight="normal" fill="#131722" stroke="#131722" stroke-width="0.25" textLength="29.3" lengthAdjust="spacingAndGlyphs" xml:space="preserve">70.00</text>
<text x="1286.0" y="616.1" font-size="12" font-weight="normal" fill="#131722" stroke="#131722" stroke-width="0.25" textLength="29.3" lengthAdjust="spacingAndGlyphs" xml:space="preserve">60.00</text>
<text x="1286.0" y="648.1" font-size="12" font-weight="normal" fill="#131722" stroke="#131722" stroke-width="0.25" textLength="29.3" lengthAdjust="spacingAndGlyphs" xml:space="preserve">50.00</text>
<text x="1286.0" y="680.1" font-size="12" font-weight="normal" fill="#131722" stroke="#131722" stroke-width="0.25" textLength="29.3" lengthAdjust="spacingAndGlyphs" xml:space="preserve">40.00</text>
<text x="1286.0" y="712.1" font-size="12" font-weight="normal" fill="#131722" stroke="#131722" stroke-width="0.25" textLength="29.3" lengthAdjust="spacingAndGlyphs" xml:space="preserve">30.00</text>
<rect x="1278.5" y="27.5" width="64" height="32.8" fill="#fff"/>
<rect x="1281.5" y="31.5" width="57.5" height="25.5" rx="4" fill="#fff" stroke="#eff0f3" stroke-width="1"/>
<text x="1290.4" y="48.7" font-size="12" font-weight="normal" fill="#131722" stroke="#131722" stroke-width="0.25" textLength="20.3" lengthAdjust="spacingAndGlyphs" xml:space="preserve">USD</text>
<path d="M1278 120.0H1332.1a2 2 0 0 1 2 2V135.0a2 2 0 0 1 -2 2H1278z" fill="#0000ff"/>
<text x="1287.0" y="132.9" font-size="12" font-weight="normal" fill="#fff" stroke="#fff" stroke-width="0.3" textLength="40.8" lengthAdjust="spacingAndGlyphs" xml:space="preserve">108.000</text>
<path d="M1278 325.0H1332.1a2 2 0 0 1 2 2V340.0a2 2 0 0 1 -2 2H1278z" fill="#0000ff"/>
<text x="1287.0" y="337.9" font-size="12" font-weight="normal" fill="#fff" stroke="#fff" stroke-width="0.3" textLength="40.8" lengthAdjust="spacingAndGlyphs" xml:space="preserve">102.000</text>
<path d="M1278 524.0H1325a2 2 0 0 1 2 2V539.0a2 2 0 0 1 -2 2H1278z" fill="#0000ff"/>
<text x="1286.0" y="536.9" font-size="12" font-weight="normal" fill="#fff" stroke="#fff" stroke-width="0.3" textLength="35.8" lengthAdjust="spacingAndGlyphs" xml:space="preserve">96.210</text>
<path d="M1249.2 402H1277a0 0 0 0 1 0 0V419a0 0 0 0 1 -0 0H1249.2a3 3 0 0 1 -3 -3V405a3 3 0 0 1 3 -3z" fill="#2962ff"/>
<path d="M1278 402H1323.8a3 3 0 0 1 3 3V416a3 3 0 0 1 -3 3H1278z" fill="#2962ff"/>
<text x="1251.0" y="414.7" font-size="12" font-weight="normal" fill="#fff" stroke="#fff" stroke-width="0.3" textLength="22.0" lengthAdjust="spacingAndGlyphs" xml:space="preserve">EMA</text>
<text x="1286.1" y="414.7" font-size="12" font-weight="normal" fill="#fff" stroke="#fff" stroke-width="0.3" textLength="34.9" lengthAdjust="spacingAndGlyphs" xml:space="preserve">99.577</text>
<path d="M1251 419.3H1277a0 0 0 0 1 0 0V435.8a0 0 0 0 1 -0 0H1251a3 3 0 0 1 -3 -3V422.3a3 3 0 0 1 3 -3z" fill="#ef5350"/>
<path d="M1278 419.3H1334.7a3 3 0 0 1 3 3V461a3 3 0 0 1 -3 3H1278z" fill="#ef5350"/>
<text x="1252.3" y="431.6" font-size="12" font-weight="normal" fill="#fff" stroke="#fff" stroke-width="0.3" textLength="19.3" lengthAdjust="spacingAndGlyphs" xml:space="preserve">DXY</text>
<text x="1286.1" y="431.6" font-size="12" font-weight="normal" fill="#fff" stroke="#fff" stroke-width="0.3" textLength="34.9" lengthAdjust="spacingAndGlyphs" xml:space="preserve">99.275</text>
<text x="1286.1" y="445.6" font-size="12" font-weight="normal" fill="#fff" stroke="#fff" stroke-width="0.3" textLength="36.4" lengthAdjust="spacingAndGlyphs" xml:space="preserve">−7.64%</text>
<text x="1286.1" y="459.4" font-size="12" font-weight="normal" fill="#fff" stroke="#fff" stroke-width="0.2" fill-opacity="0.75" textLength="46.5" lengthAdjust="spacingAndGlyphs" xml:space="preserve">07:39:06</text>
<path d="M1230 464.3H1277a0 0 0 0 1 0 0V480.8a0 0 0 0 1 -0 0H1230a3 3 0 0 1 -3 -3V467.3a3 3 0 0 1 3 -3z" fill="#f23645"/>
<path d="M1278 464.3H1323.8a3 3 0 0 1 3 3V477.8a3 3 0 0 1 -3 3H1278z" fill="#f23645"/>
<text x="1231.6" y="476.5" font-size="12" font-weight="normal" fill="#fff" stroke="#fff" stroke-width="0.3" textLength="40.7" lengthAdjust="spacingAndGlyphs" xml:space="preserve">SMA:MA</text>
<text x="1286.1" y="476.5" font-size="12" font-weight="normal" fill="#fff" stroke="#fff" stroke-width="0.3" textLength="34.9" lengthAdjust="spacingAndGlyphs" xml:space="preserve">99.050</text>
<path d="M1200.8 616.3H1277a0 0 0 0 1 0 0V632.5a0 0 0 0 1 -0 0H1200.8a3 3 0 0 1 -3 -3V619.3a3 3 0 0 1 3 -3z" fill="#fdd835"/>
<path d="M1278 616.3H1318a3 3 0 0 1 3 3V629.5a3 3 0 0 1 -3 3H1278z" fill="#fdd835"/>
<text x="1202.6" y="628.8" font-size="12" font-weight="normal" fill="#131722" stroke="#131722" stroke-width="0.25" textLength="70.2" lengthAdjust="spacingAndGlyphs" xml:space="preserve">RSI-based MA</text>
<text x="1286.0" y="628.8" font-size="12" font-weight="normal" fill="#131722" stroke="#131722" stroke-width="0.25" textLength="29.3" lengthAdjust="spacingAndGlyphs" xml:space="preserve">56.16</text>
<path d="M1254.7 650H1277a0 0 0 0 1 0 0V666.8a0 0 0 0 1 -0 0H1254.7a3 3 0 0 1 -3 -3V653a3 3 0 0 1 3 -3z" fill="#7e57c2"/>
<path d="M1278 650H1318a3 3 0 0 1 3 3V663.8a3 3 0 0 1 -3 3H1278z" fill="#7e57c2"/>
<text x="1257.0" y="662.8" font-size="12" font-weight="normal" fill="#fff" stroke="#fff" stroke-width="0.3" textLength="15.8" lengthAdjust="spacingAndGlyphs" xml:space="preserve">RSI</text>
<text x="1286.0" y="662.8" font-size="12" font-weight="normal" fill="#fff" stroke="#fff" stroke-width="0.3" textLength="29.3" lengthAdjust="spacingAndGlyphs" xml:space="preserve">45.57</text>
<text x="25.2" y="756.2" font-size="12" font-weight="normal" fill="#131722" stroke="#131722" stroke-width="0.25" textLength="19.6" lengthAdjust="spacingAndGlyphs" xml:space="preserve">Dec</text>
<text x="113.4" y="756.2" font-size="12" font-weight="bold" fill="#131722" stroke="#131722" stroke-width="0.25" textLength="27.5" lengthAdjust="spacingAndGlyphs" xml:space="preserve">2025</text>
<text x="213.9" y="756.2" font-size="12" font-weight="normal" fill="#131722" stroke="#131722" stroke-width="0.25" textLength="19.5" lengthAdjust="spacingAndGlyphs" xml:space="preserve">Feb</text>
<text x="301.0" y="756.2" font-size="12" font-weight="normal" fill="#131722" stroke="#131722" stroke-width="0.25" textLength="21.0" lengthAdjust="spacingAndGlyphs" xml:space="preserve">Mar</text>
<text x="393.6" y="756.2" font-size="12" font-weight="normal" fill="#131722" stroke="#131722" stroke-width="0.25" textLength="20.0" lengthAdjust="spacingAndGlyphs" xml:space="preserve">Apr</text>
<text x="484.8" y="756.2" font-size="12" font-weight="normal" fill="#131722" stroke="#131722" stroke-width="0.25" textLength="22.0" lengthAdjust="spacingAndGlyphs" xml:space="preserve">May</text>
<text x="582.5" y="756.2" font-size="12" font-weight="normal" fill="#131722" stroke="#131722" stroke-width="0.25" textLength="19.7" lengthAdjust="spacingAndGlyphs" xml:space="preserve">Jun</text>
<text x="676.0" y="756.2" font-size="12" font-weight="normal" fill="#131722" stroke="#131722" stroke-width="0.25" textLength="17.0" lengthAdjust="spacingAndGlyphs" xml:space="preserve">Jul</text>
<text x="775.0" y="756.2" font-size="12" font-weight="normal" fill="#131722" stroke="#131722" stroke-width="0.25" textLength="20.8" lengthAdjust="spacingAndGlyphs" xml:space="preserve">Aug</text>
<text x="867.7" y="756.2" font-size="12" font-weight="normal" fill="#131722" stroke="#131722" stroke-width="0.25" textLength="19.7" lengthAdjust="spacingAndGlyphs" xml:space="preserve">Sep</text>
<text x="964.6" y="756.2" font-size="12" font-weight="normal" fill="#131722" stroke="#131722" stroke-width="0.25" textLength="19.2" lengthAdjust="spacingAndGlyphs" xml:space="preserve">Oct</text>
<text x="1064.7" y="756.2" font-size="12" font-weight="normal" fill="#131722" stroke="#131722" stroke-width="0.25" textLength="20.8" lengthAdjust="spacingAndGlyphs" xml:space="preserve">Nov</text>
<text x="1153.3" y="756.2" font-size="12" font-weight="normal" fill="#131722" stroke="#131722" stroke-width="0.25" textLength="19.1" lengthAdjust="spacingAndGlyphs" xml:space="preserve">Dec</text>
<text x="1245.5" y="756.2" font-size="12" font-weight="bold" fill="#131722" stroke="#131722" stroke-width="0.25" textLength="27.9" lengthAdjust="spacingAndGlyphs" xml:space="preserve">2026</text>
<g fill="#111"><path d="M12 787.9H23.9V802.9H18.05V793.9H12z"/><circle cx="28.9" cy="791" r="2.95"/><path d="M35.2 787.9H41.8L35.9 802.9H29.1z"/></g>
<text x="48.9" y="802.8" font-size="20.3" font-weight="bold" fill="#111" stroke="#111" stroke-width="0.35" textLength="120.9" lengthAdjust="spacingAndGlyphs" xml:space="preserve">TradingView</text>
</g>
</svg>
</body></html>
